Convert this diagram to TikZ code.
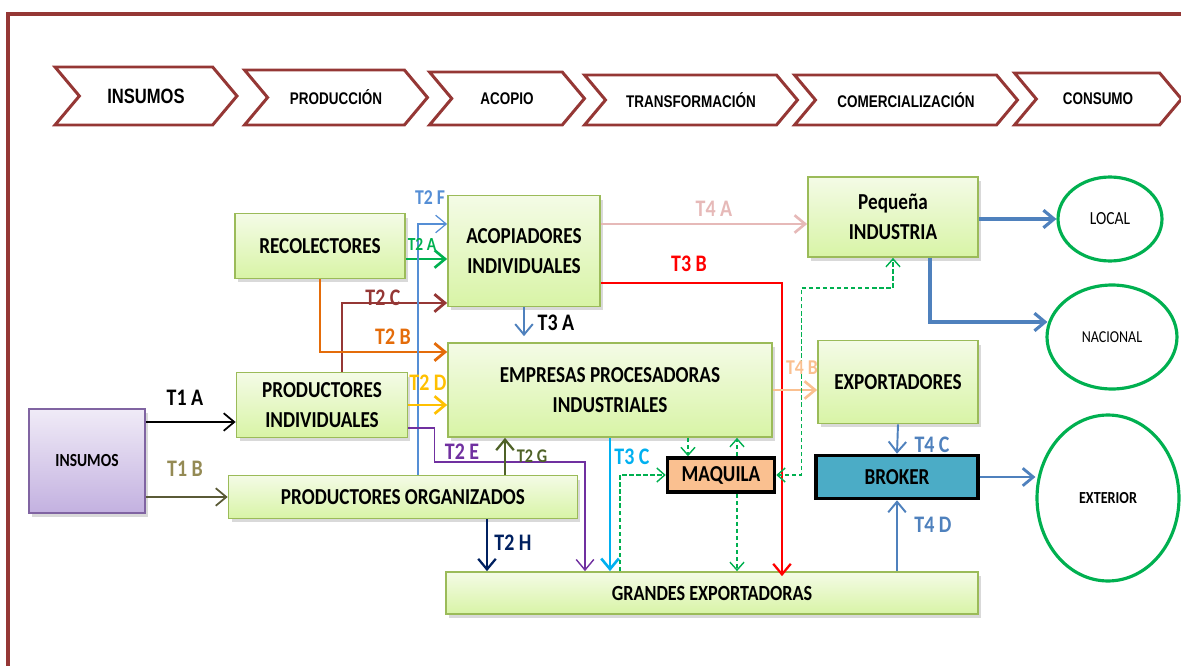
\documentclass[tikz,border=0pt]{standalone}
\usepackage{fontspec}
\setmainfont{Carlito}
\newfontfamily\boxfont[FakeStretch=0.84]{Carlito}
\newfontfamily\chevfont[FakeStretch=0.8]{Liberation Sans}
\usepackage{xcolor}
\usepackage{tikz}
\usetikzlibrary{shapes}
\usetikzlibrary{arrows}
\usetikzlibrary{positioning, fit, arrows.meta}
\usetikzlibrary{calc, shadows}

\definecolor{chevred}{HTML}{953735}
\definecolor{boxline}{HTML}{9BBB59}
\definecolor{boxtop}{HTML}{F4FBE6}
\definecolor{boxbot}{HTML}{D8F4A6}
\definecolor{insline}{HTML}{8064A2}
\definecolor{instop}{HTML}{F0EBF7}
\definecolor{insbot}{HTML}{C3B1E0}
\definecolor{maqfill}{HTML}{FAC090}
\definecolor{brokfill}{HTML}{4BACC6}
\definecolor{mktgreen}{HTML}{00B050}
\definecolor{cT1B}{HTML}{5A5A36}
\definecolor{cT1Blbl}{HTML}{948A54}
\definecolor{cT2A}{HTML}{00B050}
\definecolor{cT2F}{HTML}{558ED5}
\definecolor{cT2C}{HTML}{953735}
\definecolor{cT2B}{HTML}{E46C0A}
\definecolor{cT2D}{HTML}{FFC000}
\definecolor{cT2E}{HTML}{7030A0}
\definecolor{cT2G}{HTML}{4F6228}
\definecolor{cT2H}{HTML}{002060}
\definecolor{cBlue}{HTML}{4F81BD}
\definecolor{cT3C}{HTML}{00B0F0}
\definecolor{cT4A}{HTML}{E6B9B8}
\definecolor{cT4B}{HTML}{FAC090}

\tikzset{
  chev/.style={signal, signal to=east, signal from=west, signal pointer angle=100,
    draw=chevred, line width=1.7pt, fill=white, inner sep=0pt,
    font=\chevfont\bfseries\fontsize{9.6}{11}\selectfont},
  box/.style={draw=boxline, line width=1pt, top color=boxtop, bottom color=boxbot,
    inner sep=0pt, align=center, font=\boxfont\bfseries\fontsize{13}{17}\selectfont,
    drop shadow={shadow xshift=0.6mm, shadow yshift=-0.8mm, opacity=0.3}},
  insbox/.style={box, draw=insline, top color=instop, bottom color=insbot,
    font=\boxfont\bfseries\fontsize{10.5}{12}\selectfont},
  maqbox/.style={draw=black, line width=2pt, fill=maqfill, inner sep=0pt,
    font=\boxfont\bfseries\fontsize{13}{15}\selectfont},
  mkt/.style={ellipse, draw=mktgreen, line width=1.8pt, fill=white, inner sep=0pt,
    font=\boxfont\fontsize{10.5}{12}\selectfont},
  lbl/.style={inner sep=0pt, font=\boxfont\bfseries\fontsize{13.5}{15}\selectfont},
  slbl/.style={inner sep=0pt, font=\boxfont\bfseries\fontsize{11}{13}\selectfont},
  dsh/.style={mktgreen, line width=0.8pt, dash pattern=on 2.5pt off 1.5pt,
    >={Straight Barb[length=4.5pt,width=8pt]}},
}

\begin{document}
\begin{tikzpicture}[x=0.02cm, y=-0.02cm, >={Straight Barb[length=6pt,width=10pt]}]
\useasboundingbox (0,0) rectangle (1181,666);
\draw[chevred, line width=2pt] (8,666) -- (8,14) -- (1181,14);

% stages
\node[chev, minimum width=3.64cm, minimum height=1.16cm, font=\chevfont\bfseries\fontsize{11.8}{13}\selectfont] (stage_ins) at (146,96) {INSUMOS};
\node[chev, minimum width=3.66cm, minimum height=1.1cm] (stage_prod) at (336,97.5) {PRODUCCIÓN};
\node[chev, minimum width=3.1cm, minimum height=1.06cm] (stage_acop) at (507,98.5) {ACOPIO};
\node[chev, minimum width=4.26cm, minimum height=1cm] (stage_trans) at (691,100) {TRANSFORMACIÓN};
\node[chev, minimum width=4.46cm, minimum height=1cm] (stage_com) at (906,100) {COMERCIALIZACIÓN};
\node[chev, minimum width=3.34cm, minimum height=1.04cm] (stage_cons) at (1098,99) {CONSUMO};

% actors
\node[box, minimum width=3.4cm, minimum height=1.3cm] (recol) at (320,246) {RECOLECTORES};
\node[box, minimum width=3.04cm, minimum height=2.22cm] (acop_ind) at (524,251) {ACOPIADORES\\INDIVIDUALES};
\node[box, minimum width=3.4cm, minimum height=1.6cm] (peq_ind) at (893,217) {Pequeña\\INDUSTRIA};
\node[box, minimum width=6.48cm, minimum height=1.88cm] (emp_proc) at (610,390) {EMPRESAS PROCESADORAS\\INDUSTRIALES};
\node[box, minimum width=3.42cm, minimum height=1.3cm] (prod_ind) at (322,405) {PRODUCTORES\\INDIVIDUALES};
\node[box, minimum width=3.2cm, minimum height=1.66cm] (export) at (898,382) {EXPORTADORES};
\node[insbox, minimum width=2.32cm, minimum height=2.08cm] (insumos) at (87,461) {INSUMOS};
\node[box, minimum width=6.98cm, minimum height=0.86cm] (prod_org) at (403,497) {PRODUCTORES ORGANIZADOS};
\node[maqbox, minimum width=2.14cm, minimum height=0.68cm] (maquila) at (721,475) {MAQUILA};
\node[maqbox, fill=brokfill, minimum width=3.24cm, minimum height=0.86cm] (broker) at (897,477) {BROKER};
\node[box, minimum width=10.64cm, minimum height=0.84cm, font=\boxfont\bfseries\fontsize{12.3}{14}\selectfont] (grand_exp) at (712,593) {GRANDES EXPORTADORAS};

% markets
\node[mkt, minimum width=2.08cm, minimum height=1.68cm] (local) at (1110,219) {LOCAL};
\node[mkt, minimum width=2.6cm, minimum height=2.08cm, font=\boxfont\fontsize{9.5}{11}\selectfont] (nacional) at (1112,337) {NACIONAL};
\node[mkt, minimum width=2.84cm, minimum height=3.32cm, font=\boxfont\bfseries\fontsize{9.6}{11}\selectfont] (exterior) at (1108,498) {EXTERIOR};

% flows
\draw[->, line width=1pt] ($(insumos.east)+(0,-39)$) -- ($(prod_ind.west)+(0,17)$);
\draw[->, cT1B, line width=1pt] ($(insumos.east)+(0,36)$) -- (prod_org.west);
\draw[->, cT2A, line width=1.5pt] ($(recol.east)+(0,13)$) -- ($(acop_ind.west)+(0,8)$);
\draw[->, cT2C, line width=1.6pt] ($(prod_ind.north)+(20,0)$) |- ($(acop_ind.west)+(0,52)$);
\draw[->, cT2B, line width=1.6pt] (recol.south) |- ($(emp_proc.west)+(0,-38)$);
\draw[->, cT2F, line width=0.7pt] ($(prod_org.north)+(15,0)$) |- ($(acop_ind.west)+(0,-27)$);
\draw[->, cT2D, line width=1.5pt] (prod_ind.east) -- (prod_ind.east -| emp_proc.west);
\draw[->, cT2E, line width=0.8pt] ($(prod_ind.east)+(0,23)$) -| ($(prod_ind.east)+(26,57)$) -| ($(grand_exp.north)+(-127,0)$);
\draw[->, cT2G, line width=1.3pt] ($(prod_org.north)+(102,0)$) -- ($(emp_proc.south)+(-105,0)$);
\draw[->, cT2H, line width=1.3pt] ($(prod_org.south)+(84,0)$) -- ($(grand_exp.north)+(-225,0)$);
\draw[->, cBlue, line width=1.1pt] (acop_ind.south) -- ($(emp_proc.north)+(-86,-6)$);
\draw[->, red, line width=1.3pt] ($(acop_ind.east)+(0,32)$) -| ($(grand_exp.north)+(70,5)$);
\draw[->, cT3C, line width=1.5pt] (emp_proc.south) -- (emp_proc.south |- grand_exp.north);
\draw[->, cT4A, line width=1.5pt] ($(acop_ind.east)+(0,-27)$) -- ($(peq_ind.west)+(0,7)$);
\draw[->, cT4B, line width=1.5pt] (emp_proc.east) -- ($(export.west)+(0,8)$);
\draw[->, cBlue, line width=1.1pt] (export.south) -- (broker.north);
\draw[->, cBlue, line width=1.1pt] (broker.south |- grand_exp.north) -- (broker.south);
\draw[->, cBlue, line width=1.8pt] (peq_ind.east |- local.west) -- (local.west);
\draw[->, cBlue, line width=1.8pt] ($(peq_ind.south)+(37,0)$) |- ($(nacional.west)+(2,-15)$);
\draw[->, cBlue, line width=1.6pt] (broker.east) -- (broker.east -| exterior.west);

% maquila
\draw[->, dsh] ($(grand_exp.north)+(-92,0)$) |- (maquila.west);
\draw[->, dsh] ($(emp_proc.south)+(78,0)$) -- ($(maquila.north)+(-33,0)$);
\draw[->, dsh] ($(maquila.north)+(16,0)$) -- ($(emp_proc.south)+(127,0)$);
\draw[->, dsh] ($(maquila.south)+(16,0)$) -- ($(grand_exp.north)+(25,0)$);
\draw[<->, dsh] (maquila.east) -| ($(maquila.east)+(25,-187)$) -| (peq_ind.south);

% labels
\node[lbl] (lbl_t1a) at (185,398) {T1 A};
\node[lbl, text=cT1Blbl] (lbl_t1b) at (185,469) {T1 B};
\node[slbl, text=cT2F, font=\boxfont\bfseries\fontsize{12}{13}\selectfont] (lbl_t2f) at (430,198) {T2 F};
\node[slbl, text=cT2A, font=\boxfont\bfseries\fontsize{10.5}{12}\selectfont] (lbl_t2a) at (422,244) {T2 A};
\node[lbl, text=cT2C] (lbl_t2c) at (383,298) {T2 C};
\node[lbl, text=cT2B] (lbl_t2b) at (393,337) {T2 B};
\node[lbl, text=cT2D] (lbl_t2d) at (428,383) {T2 D};
\node[lbl, text=cT2E] (lbl_t2e) at (462,452) {T2 E};
\node[slbl, text=cT2G] (lbl_t2g) at (532,456) {T2 G};
\node[lbl, text=cT2H] (lbl_t2h) at (513,543) {T2 H};
\node[lbl] (lbl_t3a) at (556,323) {T3 A};
\node[lbl, text=red] (lbl_t3b) at (689,264) {T3 B};
\node[lbl, text=cT3C] (lbl_t3c) at (632,457) {T3 C};
\node[lbl, text=cT4A] (lbl_t4a) at (714,209) {T4 A};
\node[slbl, text=cT4B, font=\boxfont\bfseries\fontsize{12}{13}\selectfont] (lbl_t4b) at (802,368) {T4 B};
\node[lbl, text=cBlue] (lbl_t4c) at (932,445) {T4 C};
\node[lbl, text=cBlue] (lbl_t4d) at (933,525) {T4 D};
\end{tikzpicture}
\end{document}
